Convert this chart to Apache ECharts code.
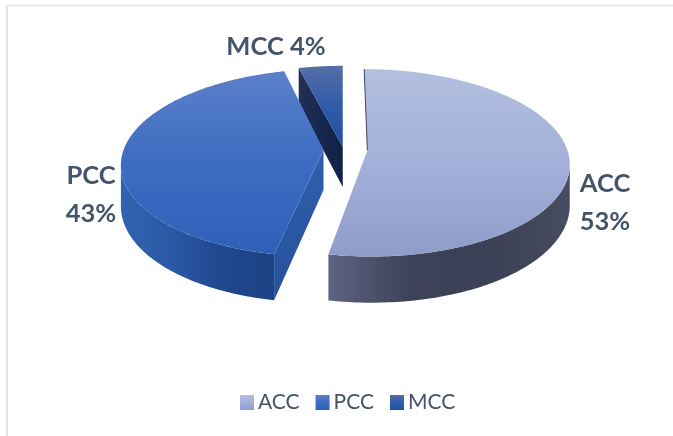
<!DOCTYPE html>
<html>
<head>
<meta charset="utf-8">
<style>html,body{margin:0;padding:0;background:#fff}#chart{width:673px;height:436px}</style>
<script src="https://cdn.jsdelivr.net/npm/echarts@6/dist/echarts.min.js"></script>
</head>
<body>
<div id="chart"></div>
<script>
// data
const categories = ['ACC', 'PCC', 'MCC'];
const percents = [53, 43, 4];

// layout of the tilted pie
const pie = { cx: 345.5, cy: 150, a: 200, b: 92, persp: 0.134, depth: 40, explode: 22, squash: 0.14 };
const leans = [0.04, -0.06, 0];
const labelText = ['ACC\n53%', 'PCC\n43%', 'MCC 4%'];
const labelPos = [[605, 202.5], [91, 195], [276, 47]];

const grad = (x, y, x2, y2, stops) => new echarts.graphic.LinearGradient(x, y, x2, y2,
    stops.map((c, i) => ({ offset: i / (stops.length - 1), color: c })));

const topColors = [
    ['#b2bfdf', '#a3b1da', '#8e9dc8'],
    ['#5c80ca', '#3d6cc2', '#2f60b8'],
    ['#566fa6', '#2f5ba8', '#22509e']
];
const sideColors = [
    ['#5d6383', '#3d4258', '#3b4056', '#474c60'],
    ['#3063b0', '#2a59a5', '#1f478c', '#1d4286']
];
const wallColors = [null, ['#2f5fae', '#26519a'], ['#232f55', '#0d2146']];

const total = percents.reduce((s, v) => s + v, 0);
const starts = [];
percents.reduce((s, v, i) => { starts[i] = s; return s + v; }, 0);

// angle is clockwise from north, r 0..1, z 0 = top face, 1 = bottom
function project(i, deg, r, z) {
    const t = deg * Math.PI / 180;
    const mid = (starts[i] + percents[i] / 2) / total * 2 * Math.PI;
    const ox = pie.cx + pie.explode * Math.sin(mid);
    const oy = pie.cy - pie.explode * Math.cos(mid) * pie.squash;
    const w = 1 + pie.persp * r * Math.cos(t);
    const X = pie.a * r * Math.sin(t) / w;
    const flat = -pie.b * r * Math.cos(t) / w;
    return [ox + X + leans[i] * flat, oy + flat + z * pie.depth / w];
}

function arc(i, from, to, z) {
    const pts = [];
    const n = Math.max(2, Math.ceil(Math.abs(to - from)));
    for (let k = 0; k <= n; k++) pts.push(project(i, from + (to - from) * k / n, 1, z));
    return pts;
}

const poly = (points, fill, z2) => ({ type: 'polygon', z2: z2, shape: { points: points }, style: { fill: fill } });

function renderSlice(i) {
    const from = starts[i] / total * 360;
    const to = (starts[i] + percents[i]) / total * 360;
    const apex = project(i, from, 0, 0);
    const apexLow = project(i, from, 0, 1);
    const kids = [];

    // outer rim, only the part facing the viewer
    const frontFrom = Math.max(from, 98);
    const frontTo = Math.min(to, 262);
    if (frontTo > frontFrom) {
        const rim = arc(i, frontFrom, frontTo, 0).concat(arc(i, frontTo, frontFrom, 1));
        kids.push(poly(rim, grad(0, 0, 1, 0, sideColors[i]), 1));
    }
    // cut walls
    if (i === 1) {
        kids.push(poly([apex, project(i, from, 1, 0), project(i, from, 1, 1), apexLow], grad(0, 0, 0, 1, wallColors[1]), 2));
    }
    if (i === 2) {
        kids.push(poly([apex, project(i, from, 1, 0), project(i, from, 1, 1), apexLow], grad(0, 0, 1, 0, wallColors[2]), 2));
    }
    // top face
    const face = [apex].concat(arc(i, from, to, 0));
    kids.push(poly(face, grad(0, 0, 0, 1, topColors[i]), 3));
    if (i === 0) {
        kids.push({ type: 'polyline', z2: 4, shape: { points: [project(i, from, 1, 0), apex] }, style: { stroke: '#3d4560', lineWidth: 1, fill: null } });
    }
    kids.push({
        type: 'text', z2: 5, x: labelPos[i][0], y: labelPos[i][1],
        style: { text: labelText[i], fill: '#44546a', font: 'bold 25.5px Lato', lineHeight: 38, align: 'center', verticalAlign: 'middle' }
    });
    return { type: 'group', children: kids };
}

const chart = echarts.init(document.getElementById('chart'), null, { renderer: 'canvas' });
chart.setOption({
    animation: false,
    backgroundColor: '#fff',
    legend: {
        data: categories,
        top: 392,
        left: 240,
        padding: 0,
        itemWidth: 14,
        itemHeight: 15,
        itemGap: 16,
        icon: 'rect',
        textStyle: { color: '#44546a', fontFamily: 'Lato', fontSize: 21, padding: [0, 0, 0, -1] }
    },
    graphic: [
        { type: 'line', shape: { x1: 6, y1: 5.5, x2: 673, y2: 5.5 }, style: { stroke: '#e1e3ea', lineWidth: 1.5 } },
        { type: 'line', shape: { x1: 7, y1: 5, x2: 7, y2: 436 }, style: { stroke: '#e0e4e8', lineWidth: 2 } }
    ],
    // MCC first, it sits behind PCC
    series: [2, 1, 0].map(i => ({
        type: 'custom',
        name: categories[i],
        coordinateSystem: 'none',
        itemStyle: { color: grad(0, 0, 0, 1, topColors[i]) },
        silent: true,
        data: [percents[i]],
        renderItem: () => renderSlice(i)
    }))
});
</script>
</body>
</html>
